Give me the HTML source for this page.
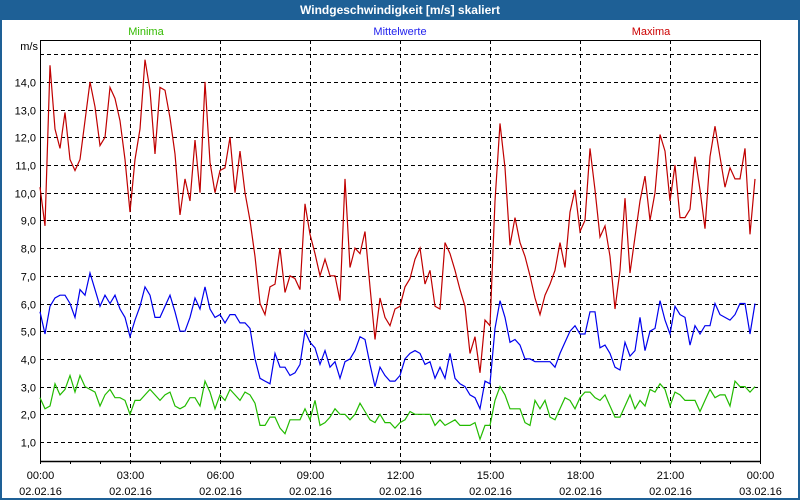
<!DOCTYPE html>
<html><head><meta charset="utf-8"><style>
body{margin:0;background:#fff;}
#wrap{position:relative;width:800px;height:500px;overflow:hidden;background:#1e6096;font-family:"Liberation Sans",sans-serif;}
#inner{position:absolute;left:2px;top:20px;width:796px;height:478px;background:#fff;}
#title{position:absolute;left:0;top:0;width:800px;height:20px;line-height:20px;text-align:center;color:#fff;font-weight:bold;font-size:12px;}
svg{position:absolute;left:0;top:0;}
</style></head><body>
<div id="wrap">
<div id="inner"></div>
<div id="title">Windgeschwindigkeit [m/s] skaliert</div>
<svg id="chart" width="800" height="500"></svg>
</div>
<script>
const tickValues=[1,2,3,4,5,6,7,8,9,10,11,12,13,14,15];
const tickLabels=["1,0","2,0","3,0","4,0","5,0","6,0","7,0","8,0","9,0","10,0","11,0","12,0","13,0","14,0",""];
const xTickHours=[0,3,6,9,12,15,18,21,24];
const xTickTimes=["00:00","03:00","06:00","09:00","12:00","15:00","18:00","21:00","00:00"];
const xTickDates=["02.02.16","02.02.16","02.02.16","02.02.16","02.02.16","02.02.16","02.02.16","02.02.16","03.02.16"];
const maxima=[10.2,8.8,14.6,12.3,11.6,12.9,11.2,10.8,11.2,12.6,14.0,13.1,11.7,12.0,13.8,13.4,12.6,11.2,9.3,11.2,12.3,14.8,13.7,11.4,13.8,13.7,12.7,11.4,9.2,10.5,9.7,11.9,10.0,14.0,11.1,10.0,10.8,10.9,12.0,
10.0,11.5,10.0,9.0,7.7,6.0,5.6,6.6,6.7,8.0,6.4,7.0,6.9,6.5,9.6,8.5,7.8,7.0,7.6,7.0,7.0,6.1,10.5,7.3,8.0,7.8,8.6,6.6,4.7,6.2,5.5,5.2,5.8,5.9,6.6,6.9,
7.6,8.0,6.7,7.2,5.9,5.8,8.2,7.8,7.2,6.5,5.9,4.2,4.8,3.5,5.4,5.2,9.7,12.5,10.9,8.1,9.1,8.2,7.7,7.0,6.2,5.6,6.3,6.7,7.2,8.2,7.3,9.3,10.1,8.6,9.0,11.6,
10.1,8.4,8.8,7.7,5.8,7.2,9.8,7.1,8.4,9.7,10.6,9.0,10.0,12.1,11.5,9.7,11.0,9.1,9.1,9.4,11.3,10.1,8.7,11.3,12.4,11.3,10.2,10.9,10.5,10.5,11.6,8.5,10.5];
const mittel=[5.7,4.9,5.9,6.2,6.3,6.3,6.0,5.5,6.5,6.3,7.1,6.5,5.9,6.3,6.0,6.3,5.8,5.5,4.8,5.4,5.9,6.6,6.3,5.5,5.5,5.9,6.3,5.7,5.0,5.0,5.5,6.2,5.8,6.6,5.8,5.5,5.6,5.3,5.6,
5.6,5.3,5.3,5.1,4.0,3.3,3.2,3.1,4.2,3.7,3.7,3.4,3.5,3.8,5.0,4.6,4.4,3.8,4.3,3.7,3.9,3.3,3.9,4.0,4.3,4.8,4.7,3.8,3.0,3.7,3.4,3.2,3.2,3.4,4.0,4.2,
4.3,4.2,3.8,3.9,3.3,3.7,3.3,4.2,3.3,3.1,3.0,2.7,2.6,2.2,3.2,3.1,5.1,6.1,5.5,4.6,4.7,4.5,4.0,4.0,3.9,3.9,3.9,3.9,3.7,4.2,4.6,5.0,5.2,4.9,4.9,5.7,
5.7,4.4,4.5,4.2,3.7,3.6,4.6,4.1,4.3,5.5,4.3,5.0,5.1,6.1,5.4,4.9,5.9,5.6,5.5,4.5,5.2,4.9,5.2,5.2,6.0,5.6,5.5,5.4,5.6,6.0,6.0,4.9,6.0];
const minima=[2.6,2.2,2.3,3.1,2.7,2.9,3.4,2.8,3.4,3.0,2.9,2.8,2.3,2.7,2.9,2.6,2.6,2.5,2.0,2.5,2.5,2.7,2.9,2.7,2.5,2.7,2.8,2.3,2.2,2.3,2.6,2.6,2.3,3.2,2.8,2.2,2.7,2.5,2.9,
2.7,2.5,2.8,2.7,2.4,1.6,1.6,1.9,1.9,1.5,1.3,1.8,1.8,1.8,2.2,1.8,2.5,1.6,1.7,1.9,2.2,2.0,2.0,1.8,2.0,2.4,2.1,1.8,1.7,2.0,1.7,1.7,1.5,1.7,1.8,2.1,
2.0,2.0,2.0,2.0,1.6,1.8,1.6,1.7,1.8,1.6,1.6,1.6,1.7,1.1,1.6,1.6,2.5,3.0,2.7,2.2,2.2,2.2,1.7,1.6,2.5,2.2,2.5,1.9,1.8,2.2,2.6,2.5,2.2,2.6,2.8,2.8,
2.6,2.5,2.7,2.3,1.9,1.9,2.3,2.7,2.2,2.5,2.3,2.9,2.8,3.1,2.9,2.3,2.8,2.7,2.5,2.5,2.5,2.1,2.5,2.9,2.6,2.7,2.7,2.3,3.2,3.0,3.0,2.8,3.0];

const svg=document.getElementById('chart');
const NS='http://www.w3.org/2000/svg';
const X0=40,X1=760,Y0=461,YT=40;
function xScale(h){return X0+(X1-X0)*h/24;}
function yScale(v){return 469.7-27.7*v;}
function mk(tag,attrs){const e=document.createElementNS(NS,tag);for(const k in attrs)e.setAttribute(k,attrs[k]);svg.appendChild(e);return e;}

// horizontal grid + y labels
tickValues.forEach((v,i)=>{
  const y=Math.round(yScale(v))+0.5;
  const g=mk('line',{x1:X0,x2:X1,y1:y,y2:y,stroke:'#000','stroke-dasharray':'4,3','stroke-width':1});
  
  
  if(tickLabels[i]){
    const t=mk('text',{x:36,y:y+4,'text-anchor':'end','font-size':11,fill:'#000','font-family':'Liberation Sans, sans-serif'});
    t.textContent=tickLabels[i];
    
    
  }
});
// vertical grid + x labels
xTickHours.forEach((h,i)=>{
  const x=Math.round(xScale(h))+0.5;
  if(h>0&&h<24){
    const g=mk('line',{x1:x,x2:x,y1:YT,y2:Y0,stroke:'#000','stroke-dasharray':'4,3','stroke-width':1});
    
    
  }
  const t1=mk('text',{x:x,y:479,'text-anchor':'middle','font-size':11,fill:'#000','font-family':'Liberation Sans, sans-serif'});
  t1.textContent=xTickTimes[i];
  
  
  const t2=mk('text',{x:x,y:495,'text-anchor':'middle','font-size':11,fill:'#000','font-family':'Liberation Sans, sans-serif'});
  t2.textContent=xTickDates[i];
  
  
});
for(let h=0;h<=24;h++){
  const x=Math.round(xScale(h))+0.5;
  const tk=mk('line',{x1:x,x2:x,y1:Y0,y2:Y0+3,stroke:'#000'});
  
  
}
// frame
const fr=mk('rect',{x:X0+0.5,y:YT+0.5,width:X1-X0,height:Y0-YT,fill:'none',stroke:'#000'});


const ax=mk('line',{x1:X0,x2:X1,y1:Y0+0.5,y2:Y0+0.5,stroke:'#000','stroke-width':1.5});



function series(arr,color,name){
  const pts=arr.map((v,i)=>xScale(i/6).toFixed(1)+','+yScale(v).toFixed(1)).join(' ');
  const p=mk('polyline',{points:pts,fill:'none',stroke:color,'stroke-width':1.2});
  
  
}
series(maxima,'#c00000','maxima-line');
series(mittel,'#0000ee','mittelwerte-line');
series(minima,'#22bb00','minima-line');

const unit=mk('text',{x:38,y:50,'text-anchor':'end','font-size':11,fill:'#000','font-family':'Liberation Sans, sans-serif'});
unit.textContent='m/s';



const leg1=mk('text',{x:146,y:35,'text-anchor':'middle','font-size':11,fill:'#33bb00','font-family':'Liberation Sans, sans-serif'});
leg1.textContent='Minima';


const leg2=mk('text',{x:400,y:35,'text-anchor':'middle','font-size':11,fill:'#2222ee','font-family':'Liberation Sans, sans-serif'});
leg2.textContent='Mittelwerte';


const leg3=mk('text',{x:651,y:35,'text-anchor':'middle','font-size':11,fill:'#cc0000','font-family':'Liberation Sans, sans-serif'});
leg3.textContent='Maxima';


</script>
</body></html>
